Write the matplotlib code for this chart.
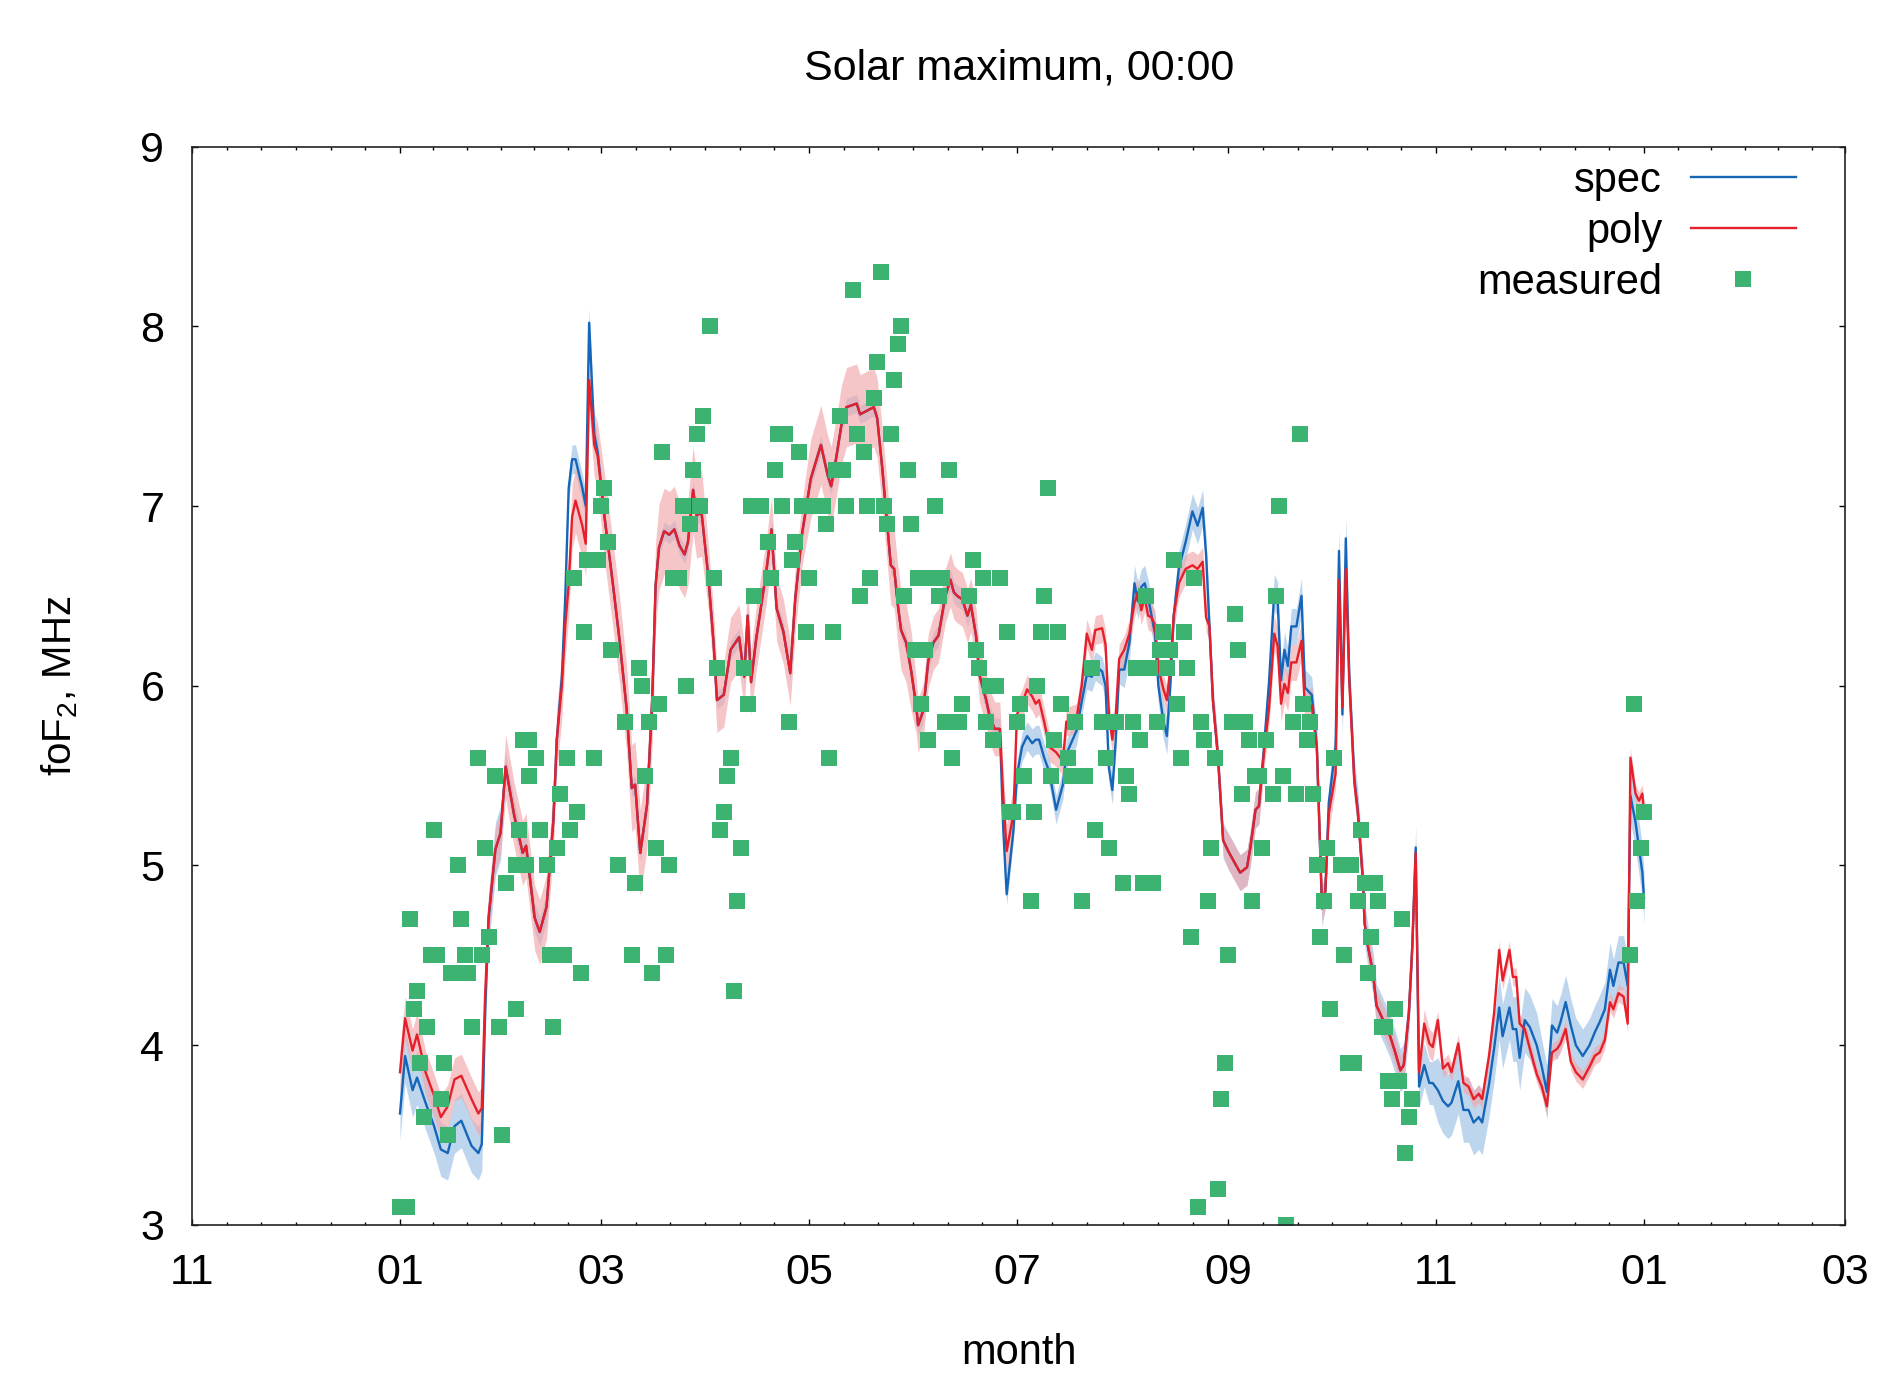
import numpy as np
import matplotlib
matplotlib.use("Agg")
import matplotlib.pyplot as plt
import matplotlib.dates as mdates
from matplotlib.ticker import FixedLocator

plt.rcParams['font.family'] = ['Liberation Sans', 'DejaVu Sans']

# Model curves, x = day counted from 1 Jan 2001
days = [0, 1.5, 3.7, 5, 7.5, 10, 12, 14, 16, 18,
        21, 23, 24, 25, 26, 28, 29.5, 31, 33.5, 36,
        37, 39.5, 41, 43, 45,
        46, 47.5, 48.5, 49.5, 50.5, 51.5, 53.5, 54.5, 55.5, 57,
        58, 60, 62.5, 64.5, 66.5, 68, 69, 70.5, 72.5, 74,
        75, 76, 77.5, 79, 80.5, 82, 83.5, 84.5, 86, 87,
        88.5, 90.5, 92, 93, 95, 97, 99.5, 101, 102, 103,
        104.5, 106, 107.5, 109, 110.5, 112.5, 114.5, 116, 118, 120.5,
        123.5,
        125.5, 126.5, 128, 129.5, 131, 132.5, 134, 135, 137, 139,
        140, 141.5, 143, 144, 145, 146, 147, 148.5, 150, 151.5,
        152, 153.5, 155, 156.5, 158, 159, 160, 161.5, 162.5, 163.5,
        165, 166.5, 167.5, 169, 170, 172, 173, 174.5, 176, 177,
        178, 180,
        181, 182.5, 184, 185.5, 186.5, 187.5, 189, 190.5, 192.5, 194.5,
        195.5, 198.5, 200, 201.5, 203, 204, 206, 207, 208, 209,
        210, 211, 212.5, 214, 215.5, 216.5, 217.5, 218.5, 219.5, 220.5,
        221.5, 222.5, 224, 225, 226, 227, 228.5, 230.5, 232.5, 234,
        235.5, 236.5, 237.5, 238.5, 240, 241.5, 243, 246.5, 248.5, 249.5,
        251, 252, 253.5, 255, 256.5, 257.5, 258.5, 259.5, 260.5, 261.5,
        263, 264.5, 265.5, 267.5, 269, 270.5, 271.5, 272.5, 274.5, 275.5,
        276.5, 277.5, 278.5, 280, 281, 282.5, 283, 284, 285.5, 286.5,
        287.5, 290.5, 292, 293.5, 294.5, 296, 297, 298, 299, 300.5,
        302, 303, 304.5, 306, 307.5, 308.5, 310.5, 312, 313.5, 315,
        316.5, 317.5, 319.5, 321, 322.5, 323.5, 325.5, 326.5, 327.5, 328.5,
        330, 331.5, 333.5, 335, 336.5, 338, 339.5, 340.5, 342, 343.5,
        345, 347, 349, 350.5, 352, 353.5, 355, 356, 357.5, 359,
        360.2, 361, 362.5, 363.5, 364.5, 365]

poly = [3.85, 4.15, 3.97, 4.06, 3.85, 3.72, 3.60, 3.66, 3.81, 3.83,
        3.70, 3.62, 3.65, 4.29, 4.72, 5.09, 5.18, 5.55, 5.28, 5.07,
        5.11, 4.71, 4.63, 4.77, 5.25,
        5.70, 6.00, 6.34, 6.56, 6.94, 7.03, 6.89, 6.79, 7.70, 7.34,
        7.28, 6.94, 6.56, 6.24, 5.87, 5.43, 5.45, 5.07, 5.34, 5.92,
        6.56, 6.77, 6.86, 6.84, 6.87, 6.78, 6.73, 6.80, 7.09, 6.95,
        6.96, 6.60, 6.24, 5.92, 5.95, 6.20, 6.27, 6.05, 6.39, 6.02,
        6.26, 6.45, 6.64, 6.87, 6.43, 6.30, 6.07, 6.49, 6.85, 7.15,
        7.34,
        7.17, 7.11, 7.27, 7.45, 7.55, 7.56, 7.57, 7.51, 7.53, 7.55,
        7.49, 7.21, 6.89, 6.67, 6.65, 6.46, 6.31, 6.24, 6.08, 5.88,
        5.78, 5.86, 6.14, 6.24, 6.28, 6.39, 6.50, 6.59, 6.52, 6.50,
        6.48, 6.39, 6.45, 6.28, 6.06, 5.92, 5.83, 5.76, 5.76, 5.38,
        5.08, 5.29,
        5.84, 5.90, 5.98, 5.94, 5.90, 5.92, 5.80, 5.66, 5.63, 5.58,
        5.80, 5.82, 6.00, 6.29, 6.20, 6.31, 6.32, 6.23, 5.84, 5.70,
        5.84, 6.15, 6.20, 6.29, 6.46, 6.52, 6.42, 6.49, 6.39, 6.38,
        6.34, 6.10, 5.98, 5.92, 6.10, 6.39, 6.57, 6.65, 6.67, 6.65,
        6.69, 6.38, 6.33, 5.92, 5.60, 5.14, 5.08, 4.96, 4.99, 5.10,
        5.31, 5.33, 5.63, 5.88, 6.29, 6.22, 5.90, 6.01, 5.96, 6.13,
        6.13, 6.25, 5.87, 5.89, 5.66, 4.79, 4.86, 5.29, 5.51, 6.59,
        5.88, 6.65, 6.03, 5.46, 5.30, 4.92, 4.68, 4.55, 4.40, 4.22,
        4.18, 4.05, 3.96, 3.86, 3.89, 4.18, 4.55, 5.07, 3.85, 4.12,
        4.01, 3.99, 4.14, 3.87, 3.90, 3.85, 4.01, 3.79, 3.77, 3.70,
        3.73, 3.70, 3.94, 4.18, 4.53, 4.36, 4.53, 4.38, 4.38, 4.12,
        4.09, 3.98, 3.84, 3.77, 3.66, 3.96, 3.98, 4.01, 4.09, 3.91,
        3.85, 3.81, 3.88, 3.94, 3.96, 4.03, 4.24, 4.20, 4.29, 4.27,
        4.12, 5.60, 5.40, 5.36, 5.40, 5.30]

spec = [3.62, 3.94, 3.75, 3.82, 3.68, 3.55, 3.42, 3.40, 3.55, 3.58,
        3.44, 3.40, 3.45, 4.20, 4.70, 5.09, 5.18, 5.55, 5.28, 5.07,
        5.11, 4.71, 4.63, 4.77, 5.25,
        5.70, 6.05, 6.50, 7.10, 7.26, 7.26, 7.10, 7.00, 8.02, 7.40,
        7.30, 6.94, 6.56, 6.24, 5.87, 5.43, 5.45, 5.07, 5.34, 5.92,
        6.56, 6.77, 6.86, 6.84, 6.87, 6.78, 6.73, 6.80, 7.09, 6.95,
        6.96, 6.60, 6.24, 5.92, 5.95, 6.20, 6.27, 6.05, 6.39, 6.02,
        6.26, 6.45, 6.64, 6.87, 6.43, 6.30, 6.07, 6.49, 6.85, 7.15,
        7.34,
        7.17, 7.11, 7.27, 7.45, 7.55, 7.56, 7.57, 7.51, 7.53, 7.55,
        7.49, 7.21, 6.89, 6.67, 6.65, 6.46, 6.31, 6.24, 6.08, 5.88,
        5.78, 5.86, 6.14, 6.24, 6.28, 6.39, 6.50, 6.59, 6.52, 6.50,
        6.48, 6.39, 6.45, 6.28, 6.06, 5.92, 5.83, 5.76, 5.76, 5.20,
        4.84, 5.20,
        5.50, 5.66, 5.72, 5.68, 5.70, 5.70, 5.60, 5.52, 5.31, 5.45,
        5.62, 5.75, 5.91, 6.06, 6.05, 6.11, 6.08, 6.00, 5.54, 5.42,
        5.70, 6.09, 6.09, 6.24, 6.57, 6.47, 6.55, 6.57, 6.49, 6.39,
        6.29, 6.00, 5.80, 5.72, 6.00, 6.39, 6.65, 6.80, 6.97, 6.89,
        6.99, 6.73, 6.33, 5.92, 5.60, 5.14, 5.08, 4.96, 4.99, 5.10,
        5.31, 5.33, 5.66, 6.03, 6.52, 6.48, 6.03, 6.20, 6.11, 6.33,
        6.33, 6.50, 5.99, 5.95, 5.66, 4.76, 4.86, 5.35, 5.66, 6.75,
        5.84, 6.82, 6.06, 5.48, 5.31, 4.92, 4.68, 4.55, 4.40, 4.22,
        4.18, 4.05, 3.96, 3.86, 3.89, 4.18, 4.55, 5.10, 3.77, 3.89,
        3.79, 3.79, 3.75, 3.69, 3.66, 3.68, 3.80, 3.64, 3.64, 3.57,
        3.60, 3.57, 3.78, 3.98, 4.21, 4.05, 4.21, 4.09, 4.09, 3.93,
        4.14, 4.10, 4.00, 3.88, 3.74, 4.11, 4.07, 4.13, 4.24, 4.11,
        4.00, 3.94, 4.00, 4.07, 4.13, 4.20, 4.42, 4.33, 4.46, 4.46,
        4.33, 5.39, 5.24, 5.10, 4.96, 4.82]

# half width of the shaded uncertainty band, Jan..Dec
poly_err = [0.12, 0.18, 0.24, 0.18, 0.22, 0.15, 0.08, 0.08, 0.10, 0.08, 0.05, 0.05]
spec_err = [0.15, 0.08, 0.05, 0.05, 0.05, 0.06, 0.08, 0.10, 0.10, 0.12, 0.18, 0.15]

# measured foF2 (MHz)
meas_day = [0, 2, 3, 4, 5, 6, 7, 8, 9, 10,
            11, 12, 13, 14, 15, 16, 17, 18, 19, 20,
            21, 23, 24, 25, 26, 28, 29, 30, 31, 34,
            34, 35, 36, 37, 38, 38, 40, 41, 43, 44,
            45, 46, 47, 48, 49, 50, 51, 52, 53, 54,
            55, 57, 58, 59, 60, 61, 62, 64, 66, 68,
            69, 70, 71, 72, 73, 74, 75, 76, 77, 78,
            79, 80, 82, 83, 84, 85, 86, 87, 88, 89,
            91, 92, 93, 94, 95, 96, 97, 98, 99, 100,
            101, 102, 103, 104, 106, 108, 109, 110, 111, 112,
            113, 114, 115, 116, 117, 118, 119, 120, 121, 124,
            125, 126, 127, 128, 129, 130, 131, 133, 134, 135,
            136, 137, 138, 139, 140, 141, 142, 143, 144, 145,
            146, 147, 148, 149, 150, 151, 152, 153, 154, 155,
            156, 157, 158, 159, 160, 161, 162, 164, 165, 167,
            168, 169, 170, 171, 172, 173, 174, 175, 176, 178,
            179, 180, 181, 182, 183, 185, 186, 187, 188, 189,
            190, 191, 192, 193, 194, 196, 197, 198, 200, 201,
            203, 204, 206, 207, 208, 210, 212, 213, 214, 215,
            216, 217, 218, 219, 220, 221, 222, 223, 224, 225,
            226, 227, 228, 229, 230, 231, 232, 233, 234, 235,
            236, 237, 238, 239, 240, 241, 242, 243, 244, 245,
            246, 247, 248, 249, 250, 251, 252, 253, 254, 256,
            257, 258, 259, 260, 262, 263, 264, 265, 266, 267,
            268, 269, 270, 271, 272, 273, 274, 276, 277, 278,
            279, 280, 281, 282, 283, 284, 285, 286, 287, 288,
            289, 290, 291, 292, 293, 294, 295, 296, 297, 361,
            362, 363, 364, 365]
meas_val = [3.1, 3.1, 4.7, 4.2, 4.3, 3.9, 3.6, 4.1, 4.5, 5.2,
            4.5, 3.7, 3.9, 3.5, 4.4, 4.4, 5.0, 4.7, 4.5, 4.4,
            4.1, 5.6, 4.5, 5.1, 4.6, 5.5, 4.1, 3.5, 4.9, 4.2,
            5.0, 5.2, 5.7, 5.0, 5.5, 5.7, 5.6, 5.2, 5.0, 4.5,
            4.1, 5.1, 5.4, 4.5, 5.6, 5.2, 6.6, 5.3, 4.4, 6.3,
            6.7, 5.6, 6.7, 7.0, 7.1, 6.8, 6.2, 5.0, 5.8, 4.5,
            4.9, 6.1, 6.0, 5.5, 5.8, 4.4, 5.1, 5.9, 7.3, 4.5,
            5.0, 6.6, 6.6, 7.0, 6.0, 6.9, 7.2, 7.4, 7.0, 7.5,
            8.0, 6.6, 6.1, 5.2, 5.3, 5.5, 5.6, 4.3, 4.8, 5.1,
            6.1, 5.9, 7.0, 6.5, 7.0, 6.8, 6.6, 7.2, 7.4, 7.0,
            7.4, 5.8, 6.7, 6.8, 7.3, 7.0, 6.3, 6.6, 7.0, 7.0,
            6.9, 5.6, 6.3, 7.2, 7.5, 7.2, 7.0, 8.2, 7.4, 6.5,
            7.3, 7.0, 6.6, 7.6, 7.8, 8.3, 7.0, 6.9, 7.4, 7.7,
            7.9, 8.0, 6.5, 7.2, 6.9, 6.2, 6.6, 5.9, 6.2, 5.7,
            6.6, 7.0, 6.5, 6.6, 5.8, 7.2, 5.6, 5.8, 5.9, 6.5,
            6.7, 6.2, 6.1, 6.6, 5.8, 6.0, 5.7, 6.0, 6.6, 6.3,
            5.3, 5.3, 5.8, 5.9, 5.5, 4.8, 5.3, 6.0, 6.3, 6.5,
            7.1, 5.5, 5.7, 6.3, 5.9, 5.6, 5.5, 5.8, 4.8, 5.5,
            6.1, 5.2, 5.8, 5.6, 5.1, 5.8, 4.9, 5.5, 5.4, 5.8,
            6.1, 5.7, 4.9, 6.5, 6.1, 4.9, 5.8, 6.2, 6.3, 6.1,
            6.2, 6.7, 5.9, 5.6, 6.3, 6.1, 4.6, 6.6, 3.1, 5.8,
            5.7, 4.8, 5.1, 5.6, 3.2, 3.7, 3.9, 4.5, 5.8, 6.4,
            6.2, 5.4, 5.8, 5.7, 4.8, 5.5, 5.5, 5.1, 5.7, 5.4,
            6.5, 7.0, 5.5, 3.0, 5.8, 5.4, 7.4, 5.9, 5.7, 5.8,
            5.4, 5.0, 4.6, 4.8, 5.1, 4.2, 5.6, 5.0, 4.5, 3.9,
            5.0, 3.9, 4.8, 5.2, 4.9, 4.4, 4.6, 4.9, 4.8, 4.1,
            4.1, 3.8, 3.7, 4.2, 3.8, 4.7, 3.4, 3.6, 3.7, 4.5,
            5.9, 4.8, 5.1, 5.3]

t0 = mdates.date2num(np.datetime64('2001-01-01'))
x = t0 + np.array(days)
poly = np.array(poly)
spec = np.array(spec)

# month of each model point -> band width
d = np.minimum(np.array(days).astype(int), 364)
month = (np.datetime64('2001-01-01') + d).astype('datetime64[M]').astype(int) % 12
p_err = np.array(poly_err)[month]
s_err = np.array(spec_err)[month]

fig = plt.figure(figsize=(18.83, 13.77), dpi=100)
ax = fig.add_axes([0.102, 0.1104, 0.8779, 0.7832])

ax.fill_between(x, spec - s_err, spec + s_err, color='#a9c9e8', alpha=0.75, lw=0)
ax.fill_between(x, poly - p_err, poly + p_err, color='#f2a7ab', alpha=0.65, lw=0)
ax.plot(x, spec, color='#1565b8', lw=1.7, label='spec')
ax.plot(x, poly, color='#e5202a', lw=1.7, label='poly')
ax.plot(t0 + np.array(meas_day), meas_val, 's', color='#3cb371', ms=11.5,
        mew=0, ls='none', label='measured')

# axes, gnuplot style
ax.set_xlim(mdates.date2num(np.datetime64('2000-11-01')),
            mdates.date2num(np.datetime64('2002-03-01')))
ax.set_ylim(3, 9)
major = mdates.date2num(np.arange('2000-11', '2002-04', 2, dtype='datetime64[M]').astype('datetime64[D]'))
minor = []
for a, b in zip(major[:-1], major[1:]):
    minor += list(np.linspace(a, b, 7)[1:-1])
ax.xaxis.set_major_locator(FixedLocator(major))
ax.xaxis.set_minor_locator(FixedLocator(minor))
ax.xaxis.set_major_formatter(mdates.DateFormatter('%m'))
ax.set_yticks(range(3, 10))

ax.tick_params(which='both', direction='in', top=True, right=True, width=1.0, labelsize=31)
ax.tick_params(which='major', length=4, pad=20)
ax.tick_params(which='minor', length=2.5)
for s in ax.spines.values():
    s.set_linewidth(1.2)
    s.set_color('#222222')

ax.set_xlabel('month', fontsize=30)
ax.xaxis.set_label_coords(0.5, -0.100)
ax.set_ylabel('foF$_{\\mathregular{2}}$, MHz', fontsize=29)
ax.yaxis.set_label_coords(-0.068, 0.5)

fig.text(0.541, 0.9506, 'Solar maximum, 00:00', fontsize=31, ha='center', va='center')

ax.legend(loc='upper right', bbox_to_anchor=(0.97, 0.987), frameon=False,
          markerfirst=False, fontsize=30, handlelength=2.5, handletextpad=0.7,
          labelspacing=0.27, borderpad=0, borderaxespad=0, numpoints=1)

fig.savefig('out.png', dpi=100)
